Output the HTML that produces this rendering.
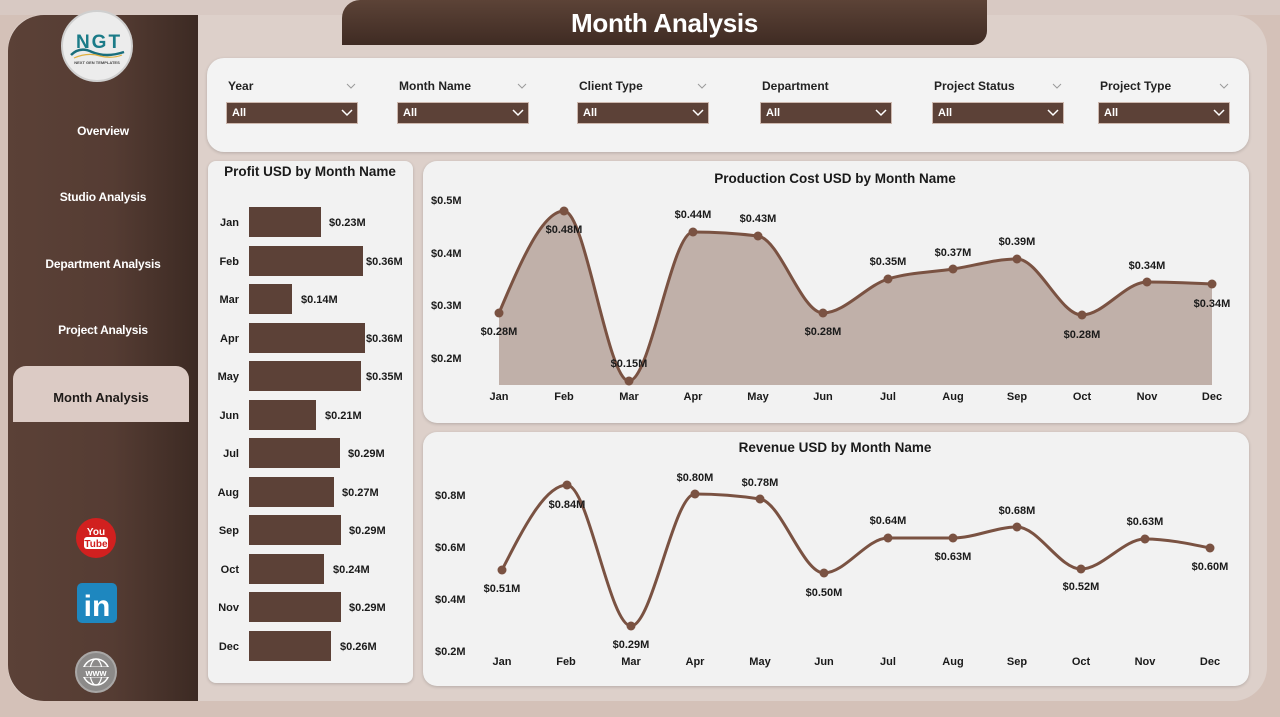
<!DOCTYPE html>
<html>
<head>
<meta charset="utf-8">
<style>
  html,body{margin:0;padding:0;}
  body{width:1280px;height:717px;position:relative;overflow:hidden;background:#d4c1b8;font-family:"Liberation Sans",Arial,sans-serif;}
  .abs{position:absolute;}
  #topstrip{left:0;top:0;width:1280px;height:15px;background:#d8c9c3;}
  #main{left:8px;top:15px;width:1259px;height:686px;border-radius:34px;background:#ddd0ca;}
  #side{left:8px;top:15px;width:190px;height:686px;border-radius:36px 0 0 36px;background:linear-gradient(90deg,#5b4137 0%,#553c33 55%,#3c2a23 100%);}
  #banner{left:342px;top:0;width:645px;height:45px;border-radius:18px 0 14px 0;background:linear-gradient(180deg,#5c4337 0%,#3f2b23 100%);color:#fff;font-weight:bold;font-size:26px;line-height:47px;text-align:center;letter-spacing:-0.3px;}
  .nav{position:absolute;left:8px;width:190px;text-align:center;color:#fff;font-weight:bold;font-size:12px;letter-spacing:-0.2px;}
  #active{left:13px;top:366px;width:176px;height:56px;background:#dccbc5;border-radius:13px 13px 0 0;color:#1e1a18;font-weight:bold;font-size:13px;line-height:63px;text-align:center;}
  .card{position:absolute;background:#f2f2f2;box-shadow:0 1px 3px rgba(0,0,0,0.18);}
  #filters{left:207px;top:58px;width:1042px;height:94px;border-radius:17px;background:#f3f3f3;}
  #profit{left:208px;top:161px;width:205px;height:522px;border-radius:8px;}
  #prod{left:423px;top:161px;width:826px;height:262px;border-radius:14px;}
  #rev{left:423px;top:432px;width:826px;height:254px;border-radius:14px;}
  .flab{position:absolute;top:79px;font-size:12px;font-weight:bold;color:#222;}
  .box{position:absolute;top:102px;width:130px;height:20px;background:#5c4137;border:1px solid #cdb8ae;color:#fff;font-size:11px;font-weight:bold;line-height:21px;}
  .box span{position:absolute;left:5px;}
  svg text{font-family:"Liberation Sans",Arial,sans-serif;}
</style>
</head>
<body>
<div class="abs" id="topstrip"></div>
<div class="abs" id="main"></div>
<div class="abs" id="side"></div>
<div class="abs" id="banner">Month Analysis</div>

<div class="nav" style="top:124px;">Overview</div>
<div class="nav" style="top:190px;">Studio Analysis</div>
<div class="nav" style="top:257px;">Department Analysis</div>
<div class="nav" style="top:323px;">Project Analysis</div>
<div class="abs" id="active">Month Analysis</div>

<div class="card" id="filters"></div>
<div class="card" id="profit"></div>
<div class="card" id="prod"></div>
<div class="card" id="rev"></div>

<!-- filter labels -->
<div class="flab" style="left:228px;">Year</div>
<div class="flab" style="left:399px;">Month Name</div>
<div class="flab" style="left:579px;">Client Type</div>
<div class="flab" style="left:762px;">Department</div>
<div class="flab" style="left:934px;">Project Status</div>
<div class="flab" style="left:1100px;">Project Type</div>

<div class="box" style="left:226px;"><span>All</span></div>
<div class="box" style="left:397px;"><span>All</span></div>
<div class="box" style="left:577px;"><span>All</span></div>
<div class="box" style="left:760px;"><span>All</span></div>
<div class="box" style="left:932px;"><span>All</span></div>
<div class="box" style="left:1098px;"><span>All</span></div>

<svg class="abs" style="left:0;top:0;" width="1280" height="717" viewBox="0 0 1280 717">
  <!-- logo -->
  <circle cx="97" cy="46" r="35" fill="#ececec" stroke="#cfcfcf" stroke-width="2"/>
  <path d="M71,55 Q80,46 92,52 Q106,58 124,52" fill="none" stroke="#1a6e7c" stroke-width="2.5"/>
  <path d="M74,58 Q88,52 100,56 Q112,59 122,55" fill="none" stroke="#e0b040" stroke-width="1.2"/>
  <text x="99" y="48" font-size="19" font-weight="bold" fill="#1b7b88" text-anchor="middle" letter-spacing="2">NGT</text>
  <text x="97" y="64" font-size="4" font-weight="bold" fill="#444" text-anchor="middle">NEXT GEN TEMPLATES</text>

  <!-- youtube -->
  <circle cx="96" cy="538" r="20" fill="#d1201f"/>
  <text x="96" y="535" font-size="10" font-weight="bold" fill="#fff" text-anchor="middle">You</text>
  <rect x="84" y="537" width="24" height="12" rx="3" fill="#fff"/>
  <text x="96" y="547" font-size="10" font-weight="bold" fill="#d1201f" text-anchor="middle">Tube</text>
  <!-- linkedin -->
  <rect x="77" y="583" width="40" height="40" rx="5" fill="#1e87bf"/>
  <text x="97" y="616" font-size="30" font-weight="bold" fill="#fff" text-anchor="middle">in</text>
  <!-- www -->
  <circle cx="96" cy="672" r="20" fill="#8c8a89" stroke="#a9a7a6" stroke-width="2"/>
  <circle cx="96" cy="672" r="13" fill="none" stroke="#fff" stroke-width="1.5"/>
  <ellipse cx="96" cy="672" rx="6" ry="13" fill="none" stroke="#fff" stroke-width="1.2"/>
  <line x1="83" y1="667" x2="109" y2="667" stroke="#fff" stroke-width="1"/>
  <line x1="83" y1="677" x2="109" y2="677" stroke="#fff" stroke-width="1"/>
  <rect x="81" y="667" width="30" height="10" fill="#8c8a89"/>
  <text x="96" y="676" font-size="9" font-weight="bold" fill="#fff" text-anchor="middle">www</text>

  <!-- filter chevrons (gray, label) -->
  <g fill="none" stroke="#9a9a9a" stroke-width="1">
    <polyline points="347,84 351,88 355,84"/>
    <polyline points="518,84 522,88 526,84"/>
    <polyline points="698,84 702,88 706,84"/>
    <polyline points="1053,84 1057,88 1061,84"/>
    <polyline points="1220,84 1224,88 1228,84"/>
  </g>
  <!-- box chevrons (white) -->
  <g fill="none" stroke="#fff" stroke-width="1.5">
    <polyline points="342,110 347,115 352,110"/>
    <polyline points="513,110 518,115 523,110"/>
    <polyline points="693,110 698,115 703,110"/>
    <polyline points="876,110 881,115 886,110"/>
    <polyline points="1048,110 1053,115 1058,110"/>
    <polyline points="1214,110 1219,115 1224,110"/>
  </g>

  <!-- Profit chart -->
  <text x="310" y="176" font-size="13.5" font-weight="bold" fill="#1a1a1a" text-anchor="middle">Profit USD by Month Name</text>
  <g fill="#5c4137">
    <rect x="249" y="207" width="72" height="30"/>
    <rect x="249" y="246" width="114" height="30"/>
    <rect x="249" y="284" width="43" height="30"/>
    <rect x="249" y="323" width="116" height="30"/>
    <rect x="249" y="361" width="112" height="30"/>
    <rect x="249" y="400" width="67" height="30"/>
    <rect x="249" y="438" width="91" height="30"/>
    <rect x="249" y="477" width="85" height="30"/>
    <rect x="249" y="515" width="92" height="30"/>
    <rect x="249" y="554" width="75" height="30"/>
    <rect x="249" y="592" width="92" height="30"/>
    <rect x="249" y="631" width="82" height="30"/>
  </g>
  <g font-size="11" font-weight="bold" fill="#1a1a1a" text-anchor="end">
    <text x="239" y="226">Jan</text>
    <text x="239" y="265">Feb</text>
    <text x="239" y="303">Mar</text>
    <text x="239" y="342">Apr</text>
    <text x="239" y="380">May</text>
    <text x="239" y="419">Jun</text>
    <text x="239" y="457">Jul</text>
    <text x="239" y="496">Aug</text>
    <text x="239" y="534">Sep</text>
    <text x="239" y="573">Oct</text>
    <text x="239" y="611">Nov</text>
    <text x="239" y="650">Dec</text>
  </g>
  <g font-size="11" font-weight="bold" fill="#1a1a1a">
    <text x="329" y="226">$0.23M</text>
    <text x="366" y="265">$0.36M</text>
    <text x="301" y="303">$0.14M</text>
    <text x="366" y="342">$0.36M</text>
    <text x="366" y="380">$0.35M</text>
    <text x="325" y="419">$0.21M</text>
    <text x="348" y="457">$0.29M</text>
    <text x="342" y="496">$0.27M</text>
    <text x="349" y="534">$0.29M</text>
    <text x="333" y="573">$0.24M</text>
    <text x="349" y="611">$0.29M</text>
    <text x="340" y="650">$0.26M</text>
  </g>

  <!-- Production Cost chart -->
  <text x="835" y="183" font-size="13.5" font-weight="bold" fill="#1a1a1a" text-anchor="middle">Production Cost USD by Month Name</text>
  <g font-size="11" font-weight="bold" fill="#1a1a1a">
    <text x="431" y="204">$0.5M</text>
    <text x="431" y="257">$0.4M</text>
    <text x="431" y="309">$0.3M</text>
    <text x="431" y="362">$0.2M</text>
  </g>
  <path d="M499,313 C520.67,262 542.33,211 564,211 C585.67,211 607.33,381 629,381 C650.33,381 671.67,232 693,232 C714.67,232 736.33,233.33 758,236 C779.67,238.67 801.33,313 823,313 C844.67,313 866.33,285.67 888,279 C909.67,272.33 931.33,272.36 953,269 C974.33,265.69 995.67,259 1017,259 C1038.67,259 1060.33,315 1082,315 C1103.67,315 1125.33,282 1147,282 C1168.67,282 1190.33,283 1212,284 L1212,385 L499,385 Z" fill="#c0b0a9"/>
  <path d="M499,313 C520.67,262 542.33,211 564,211 C585.67,211 607.33,381 629,381 C650.33,381 671.67,232 693,232 C714.67,232 736.33,233.33 758,236 C779.67,238.67 801.33,313 823,313 C844.67,313 866.33,285.67 888,279 C909.67,272.33 931.33,272.36 953,269 C974.33,265.69 995.67,259 1017,259 C1038.67,259 1060.33,315 1082,315 C1103.67,315 1125.33,282 1147,282 C1168.67,282 1190.33,283 1212,284" fill="none" stroke="#7a5242" stroke-width="3"/>
  <g fill="#7a5242">
    <circle cx="499" cy="313" r="4.5"/><circle cx="564" cy="211" r="4.5"/><circle cx="629" cy="381" r="4.5"/>
    <circle cx="693" cy="232" r="4.5"/><circle cx="758" cy="236" r="4.5"/><circle cx="823" cy="313" r="4.5"/>
    <circle cx="888" cy="279" r="4.5"/><circle cx="953" cy="269" r="4.5"/><circle cx="1017" cy="259" r="4.5"/>
    <circle cx="1082" cy="315" r="4.5"/><circle cx="1147" cy="282" r="4.5"/><circle cx="1212" cy="284" r="4.5"/>
  </g>
  <g font-size="11" font-weight="bold" fill="#1a1a1a" text-anchor="middle">
    <text x="499" y="335">$0.28M</text>
    <text x="564" y="233">$0.48M</text>
    <text x="629" y="367">$0.15M</text>
    <text x="693" y="218">$0.44M</text>
    <text x="758" y="222">$0.43M</text>
    <text x="823" y="335">$0.28M</text>
    <text x="888" y="265">$0.35M</text>
    <text x="953" y="256">$0.37M</text>
    <text x="1017" y="245">$0.39M</text>
    <text x="1082" y="338">$0.28M</text>
    <text x="1147" y="269">$0.34M</text>
    <text x="1212" y="307">$0.34M</text>
  </g>
  <g font-size="11" font-weight="bold" fill="#1a1a1a" text-anchor="middle">
    <text x="499" y="400">Jan</text><text x="564" y="400">Feb</text><text x="629" y="400">Mar</text>
    <text x="693" y="400">Apr</text><text x="758" y="400">May</text><text x="823" y="400">Jun</text>
    <text x="888" y="400">Jul</text><text x="953" y="400">Aug</text><text x="1017" y="400">Sep</text>
    <text x="1082" y="400">Oct</text><text x="1147" y="400">Nov</text><text x="1212" y="400">Dec</text>
  </g>

  <!-- Revenue chart -->
  <text x="835" y="452" font-size="13.5" font-weight="bold" fill="#1a1a1a" text-anchor="middle">Revenue USD by Month Name</text>
  <g font-size="11" font-weight="bold" fill="#1a1a1a">
    <text x="435" y="499">$0.8M</text>
    <text x="435" y="551">$0.6M</text>
    <text x="435" y="603">$0.4M</text>
    <text x="435" y="655">$0.2M</text>
  </g>
  <path d="M502,570 C523.67,527.5 545.33,485 567,485 C588.33,485 609.67,626 631,626 C652.33,626 673.67,494 695,494 C716.67,494 738.33,495.67 760,499 C781.33,502.29 802.67,573 824,573 C845.33,573 866.67,538 888,538 C909.67,538 931.33,538 953,538 C974.33,538 995.67,527 1017,527 C1038.33,527 1059.67,569 1081,569 C1102.33,569 1123.67,539 1145,539 C1166.67,539 1188.33,543.5 1210,548" fill="none" stroke="#7a5242" stroke-width="3"/>
  <g fill="#7a5242">
    <circle cx="502" cy="570" r="4.5"/><circle cx="567" cy="485" r="4.5"/><circle cx="631" cy="626" r="4.5"/>
    <circle cx="695" cy="494" r="4.5"/><circle cx="760" cy="499" r="4.5"/><circle cx="824" cy="573" r="4.5"/>
    <circle cx="888" cy="538" r="4.5"/><circle cx="953" cy="538" r="4.5"/><circle cx="1017" cy="527" r="4.5"/>
    <circle cx="1081" cy="569" r="4.5"/><circle cx="1145" cy="539" r="4.5"/><circle cx="1210" cy="548" r="4.5"/>
  </g>
  <g font-size="11" font-weight="bold" fill="#1a1a1a" text-anchor="middle">
    <text x="502" y="592">$0.51M</text>
    <text x="567" y="508">$0.84M</text>
    <text x="631" y="648">$0.29M</text>
    <text x="695" y="481">$0.80M</text>
    <text x="760" y="486">$0.78M</text>
    <text x="824" y="596">$0.50M</text>
    <text x="888" y="524">$0.64M</text>
    <text x="953" y="560">$0.63M</text>
    <text x="1017" y="514">$0.68M</text>
    <text x="1081" y="590">$0.52M</text>
    <text x="1145" y="525">$0.63M</text>
    <text x="1210" y="570">$0.60M</text>
  </g>
  <g font-size="11" font-weight="bold" fill="#1a1a1a" text-anchor="middle">
    <text x="502" y="665">Jan</text><text x="566" y="665">Feb</text><text x="631" y="665">Mar</text>
    <text x="695" y="665">Apr</text><text x="760" y="665">May</text><text x="824" y="665">Jun</text>
    <text x="888" y="665">Jul</text><text x="953" y="665">Aug</text><text x="1017" y="665">Sep</text>
    <text x="1081" y="665">Oct</text><text x="1145" y="665">Nov</text><text x="1210" y="665">Dec</text>
  </g>
</svg>
</body>
</html>
